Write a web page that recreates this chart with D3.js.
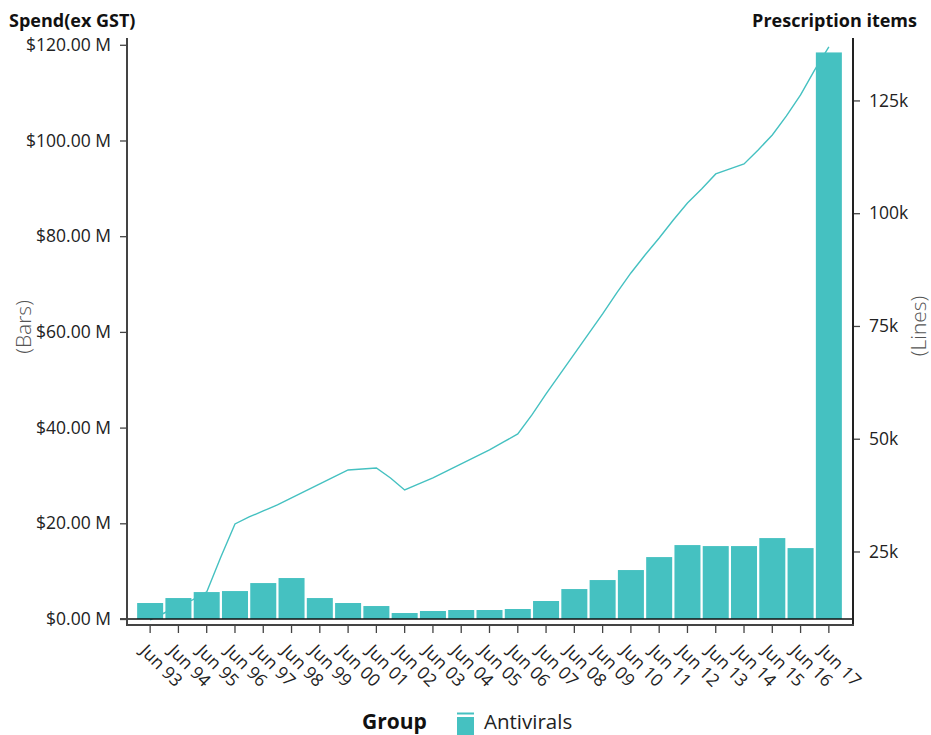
<!DOCTYPE html>
<html>
<head>
<meta charset="utf-8">
<script src="https://cdn.jsdelivr.net/npm/d3@7/dist/d3.min.js"></script>
<style>
  html, body { margin: 0; padding: 0; background: #fff; }
  svg { display: block; font-family: "Open Sans", "Noto Sans", sans-serif; }
</style>
</head>
<body>
<svg id="chart" width="931" height="735"></svg>
<script>
// ---- data ----
const years = ["Jun 93","Jun 94","Jun 95","Jun 96","Jun 97","Jun 98","Jun 99","Jun 00","Jun 01","Jun 02","Jun 03","Jun 04","Jun 05","Jun 06","Jun 07","Jun 08","Jun 09","Jun 10","Jun 11","Jun 12","Jun 13","Jun 14","Jun 15","Jun 16","Jun 17"];
// spend, $ millions (bars)
const spend = [3.34, 4.38, 5.63, 5.84, 7.51, 8.56, 4.38, 3.34, 2.71, 1.25, 1.67, 1.88, 1.88, 2.09, 3.76, 6.26, 8.14, 10.23, 12.94, 15.45, 15.24, 15.24, 16.91, 14.82, 118.4];
// half-yearly periods for prescription items (line)
const periods = ["Jun 93","Dec 93","Jun 94","Dec 94","Jun 95","Dec 95","Jun 96","Dec 96","Jun 97","Dec 97","Jun 98","Dec 98","Jun 99","Dec 99","Jun 00","Dec 00","Jun 01","Dec 01","Jun 02","Dec 02","Jun 03","Dec 03","Jun 04","Dec 04","Jun 05","Dec 05","Jun 06","Dec 06","Jun 07","Dec 07","Jun 08","Dec 08","Jun 09","Dec 09","Jun 10","Dec 10","Jun 11","Dec 11","Jun 12","Dec 12","Jun 13","Dec 13","Jun 14","Dec 14","Jun 15","Dec 15","Jun 16","Dec 16","Jun 17"];
// prescription items, thousands
const items = [9.81, 11.36, 12.92, 14.25, 16.02, 23.78, 31.10, 32.65, 33.98, 35.31, 36.86, 38.41, 39.97, 41.52, 43.07, 43.29, 43.51, 41.30, 38.64, 39.97, 41.30, 42.85, 44.40, 45.95, 47.51, 49.28, 51.05, 55.27, 59.92, 64.36, 68.79, 73.23, 77.66, 82.32, 86.75, 90.74, 94.51, 98.50, 102.27, 105.37, 108.70, 109.81, 110.92, 114.02, 117.35, 121.56, 126.22, 131.76, 136.86];
const leftTicks = [0, 20, 40, 60, 80, 100, 120];
const rightTicks = [25, 50, 75, 100, 125];
const seriesName = "Antivirals";
const legendTitle = "Group";
const leftTitle = "Spend(ex GST)";
const rightTitle = "Prescription items";
const leftAxisLabel = "(Bars)";
const rightAxisLabel = "(Lines)";

// ---- layout ----
const color = "#45c1c1";
const L = 127, R = 853, T = 40, B = 619, AX = 625;
const FS = 17.5;
const svg = d3.select("#chart");

const x = d3.scaleBand().domain(years).range([136, 843]).paddingInner(0.08).paddingOuter(0.04);
const xc = d => x(d) + x.bandwidth() / 2;
const xl = d3.scalePoint().domain(periods).range([xc(years[0]), xc(years[years.length - 1])]);
const yL = d3.scaleLinear().domain([0, 121]).range([B, T]);
const yR = d3.scaleLinear().domain([10.03, 138.4]).range([B, T]);

// line (drawn beneath the bars)
svg.append("path")
  .datum(items)
  .attr("fill", "none")
  .attr("stroke", color)
  .attr("stroke-width", 1.4)
  .attr("d", d3.line().x((d, i) => xl(periods[i])).y(d => yR(d)));

// bars
svg.append("g").selectAll("rect").data(spend).join("rect")
  .attr("x", (d, i) => x(years[i]))
  .attr("width", x.bandwidth())
  .attr("y", d => yL(d))
  .attr("height", d => yL(0) - yL(d))
  .attr("fill", color);

// zero line
svg.append("line").attr("x1", 120).attr("x2", R).attr("y1", yL(0)).attr("y2", yL(0))
  .attr("stroke", "#111").attr("stroke-width", 1.5);

// left axis
const gL = svg.append("g").attr("transform", `translate(${L},0)`)
  .call(d3.axisLeft(yL).tickValues(leftTicks).tickSize(7).tickPadding(9)
    .tickFormat(d => "$" + d3.format(".2f")(d) + " M"));
gL.select(".domain").remove();
gL.selectAll(".tick line").attr("stroke", "#444").attr("stroke-width", 1.3);
gL.selectAll("text").attr("font-size", FS).attr("fill", "#222")
  .attr("font-family", "'Open Sans', sans-serif");
svg.append("line").attr("x1", L).attr("x2", L).attr("y1", 38).attr("y2", AX)
  .attr("stroke", "#444").attr("stroke-width", 2);

// right axis
const gR = svg.append("g").attr("transform", `translate(${R},0)`)
  .call(d3.axisRight(yR).tickValues(rightTicks).tickSize(7).tickPadding(9)
    .tickFormat(d => d + "k"));
gR.select(".domain").remove();
gR.selectAll(".tick line").attr("stroke", "#444").attr("stroke-width", 1.3);
gR.selectAll("text").attr("font-size", FS).attr("fill", "#222")
  .attr("font-family", "'Open Sans', sans-serif");
svg.append("line").attr("x1", R).attr("x2", R).attr("y1", 38).attr("y2", AX)
  .attr("stroke", "#222").attr("stroke-width", 2);

// bottom axis
const gB = svg.append("g").attr("transform", `translate(0,${AX})`)
  .call(d3.axisBottom(x).tickSize(8).tickFormat(""));
gB.select(".domain").remove();
gB.selectAll(".tick line").attr("stroke", "#444").attr("stroke-width", 1.3);
svg.append("line").attr("x1", L - 1).attr("x2", R + 1).attr("y1", AX).attr("y2", AX)
  .attr("stroke", "#444").attr("stroke-width", 2);
svg.append("g").selectAll("text").data(years).join("text")
  .attr("transform", d => `translate(${xc(d) - 11},${AX + 27}) rotate(45)`)
  .attr("font-size", FS).attr("fill", "#222")
  .text(d => d);

// titles
svg.append("text").attr("x", 9).attr("y", 27).attr("font-size", 18).attr("font-weight", 700)
  .attr("fill", "#111").text(leftTitle);
svg.append("text").attr("x", 917).attr("y", 27).attr("text-anchor", "end").attr("font-size", 18)
  .attr("font-weight", 700).attr("fill", "#111").text(rightTitle);
svg.append("text").attr("transform", "translate(31,327) rotate(-90)").attr("text-anchor", "middle")
  .attr("font-size", 21).attr("font-weight", 300).attr("fill", "#555").text(leftAxisLabel);
svg.append("text").attr("transform", "translate(926,326) rotate(-90)").attr("text-anchor", "middle")
  .attr("font-size", 21).attr("font-weight", 300).attr("fill", "#555").text(rightAxisLabel);

// legend
svg.append("text").attr("x", 362).attr("y", 729).attr("font-size", 21).attr("font-weight", 700)
  .attr("fill", "#111").text(legendTitle);
svg.append("line").attr("x1", 457).attr("x2", 474).attr("y1", 713.5).attr("y2", 713.5)
  .attr("stroke", color).attr("stroke-width", 2);
svg.append("rect").attr("x", 457).attr("y", 717).attr("width", 17).attr("height", 20).attr("fill", color);
svg.append("text").attr("x", 484).attr("y", 729).attr("font-size", 20.5).attr("fill", "#222").text(seriesName);
</script>
</body>
</html>
